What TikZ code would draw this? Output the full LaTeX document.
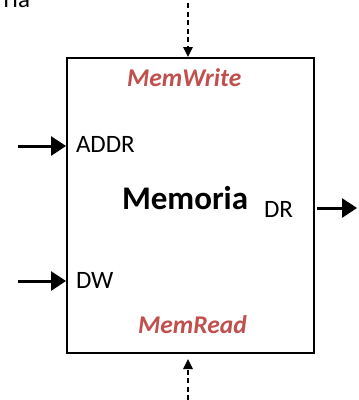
\documentclass[tikz,border=0pt]{standalone}
\usepackage{fontspec}
\setmainfont{Carlito}
\usetikzlibrary{arrows.meta}
\definecolor{ctrlred}{HTML}{C0504D}
\tikzset{
  label/.style={inner sep=0pt, outer sep=0pt, anchor=base west, font=\fontsize{25}{25}\selectfont},
  ctrl/.style={label, text=ctrlred, font=\fontsize{25.5}{25.5}\selectfont\bfseries\itshape},
  databus/.style={line width=3pt, -{Triangle[length=15pt,width=19pt]}},
  ctrlline/.style={line width=1.5pt, dash pattern=on 5pt off 3.5pt, -{Triangle[length=10pt,width=9.5pt]}}
}
\begin{document}
\begin{tikzpicture}[x=1pt,y=-1pt]
  \useasboundingbox (0,0) rectangle (359,400);
  % memory block
  \node[draw, line width=2pt, minimum width=247pt, minimum height=295pt, inner sep=0pt, anchor=north west] (mem) at (66,57) {};
  % clipped heading fragment
  \node[label, anchor=base east] (head) at (30,7) {ria};
  % labels inside the block
  \node[ctrl] (mw) at (127,86.5) {MemWrite};
  \node[ctrl] (mr) at (138,333) {MemRead};
  \node[label] (addr) at (76,152.3) {ADDR};
  \node[label] (dw) at (76,288) {DW};
  \node[label] (dr) at (264,217) {DR};
  \node[label, font=\fontsize{33}{33}\selectfont\bfseries] (title) at (122,209) {Memoria};
  % data inputs and output
  \coordinate (addrsrc) at (18,146);
  \coordinate (dwsrc) at (18,281);
  \coordinate (drdst) at (357,208);
  \draw[databus] (addrsrc) -- (addrsrc -| mem.west);
  \draw[databus] (dwsrc) -- (dwsrc -| mem.west);
  \draw[databus] (drdst -| mem.east) ++(2,0) -- (drdst);
  % control signals
  \coordinate (mwsrc) at (188,3);
  \coordinate (mrsrc) at (188,400);
  \coordinate (mrtip) at (188,359);
  \draw[ctrlline] (mwsrc) -- (mwsrc |- mem.north);
  \draw[ctrlline] (mrsrc) -- (mrtip);
\end{tikzpicture}
\end{document}
